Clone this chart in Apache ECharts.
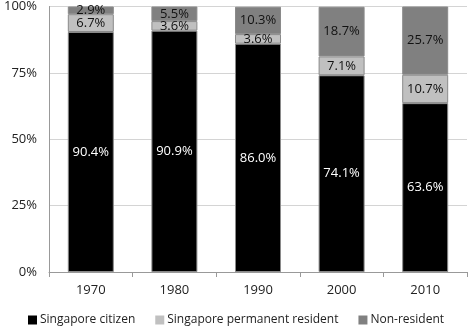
<!DOCTYPE html>
<html>
<head>
<meta charset="utf-8">
<script src="https://cdn.jsdelivr.net/npm/echarts@6/dist/echarts.min.js"></script>
<style>
  html, body { margin: 0; padding: 0; background: #fff; }
  #chart { width: 472px; height: 333px; }
</style>
</head>
<body>
<div id="chart"></div>
<script>
// census years
const years = ['1970', '1980', '1990', '2000', '2010'];
// share of population, %
const citizen = [90.4, 90.9, 86.0, 74.1, 63.6];
const permanentResident = [6.7, 3.6, 3.6, 7.1, 10.7];
const nonResident = [2.9, 5.5, 10.3, 18.7, 25.7];
const yTicks = [0, 25, 50, 75, 100];

const font = 'Open Sans';
const chart = echarts.init(document.getElementById('chart'));

function bar(name, data, color, labelColor) {
  return {
    name: name,
    type: 'bar',
    stack: 'total',
    barWidth: 46,
    data: data,
    itemStyle: { color: color, borderColor: '#8a8a8a', borderWidth: 1 },
    label: {
      show: true,
      position: 'inside',
      color: labelColor,
      fontFamily: font,
      fontSize: 13,
      formatter: (p) => p.value.toFixed(1) + '%'
    }
  };
}

chart.setOption({
  animation: false,
  grid: { left: 49, right: 5, top: 5, bottom: 61 },
  legend: {
    bottom: 2,
    itemWidth: 9,
    itemHeight: 9,
    itemGap: 20,
    icon: 'rect',
    itemStyle: { borderWidth: 0 },
    textStyle: { fontFamily: font, fontSize: 12, color: '#222', padding: [0, 0, 0, -2] },
    data: ['Singapore citizen', 'Singapore permanent resident', 'Non-resident']
  },
  xAxis: {
    type: 'category',
    data: years,
    axisLine: { lineStyle: { color: '#999' } },
    axisTick: { show: true, length: 5, lineStyle: { color: '#999' } },
    axisLabel: { fontFamily: font, fontSize: 13, color: '#222', margin: 12 }
  },
  yAxis: {
    type: 'value',
    min: yTicks[0],
    max: yTicks[yTicks.length - 1],
    interval: 25,
    axisLine: { show: true, lineStyle: { color: '#999' } },
    axisTick: { show: false },
    splitLine: { lineStyle: { color: '#d4d4d4' } },
    axisLabel: { fontFamily: font, fontSize: 13, color: '#222', margin: 12, formatter: '{value}%' }
  },
  series: [
    bar('Singapore citizen', citizen, '#000000', '#ffffff'),
    bar('Singapore permanent resident', permanentResident, '#c0c0c0', '#111'),
    bar('Non-resident', nonResident, '#808080', '#111')
  ]
});
</script>
</body>
</html>
